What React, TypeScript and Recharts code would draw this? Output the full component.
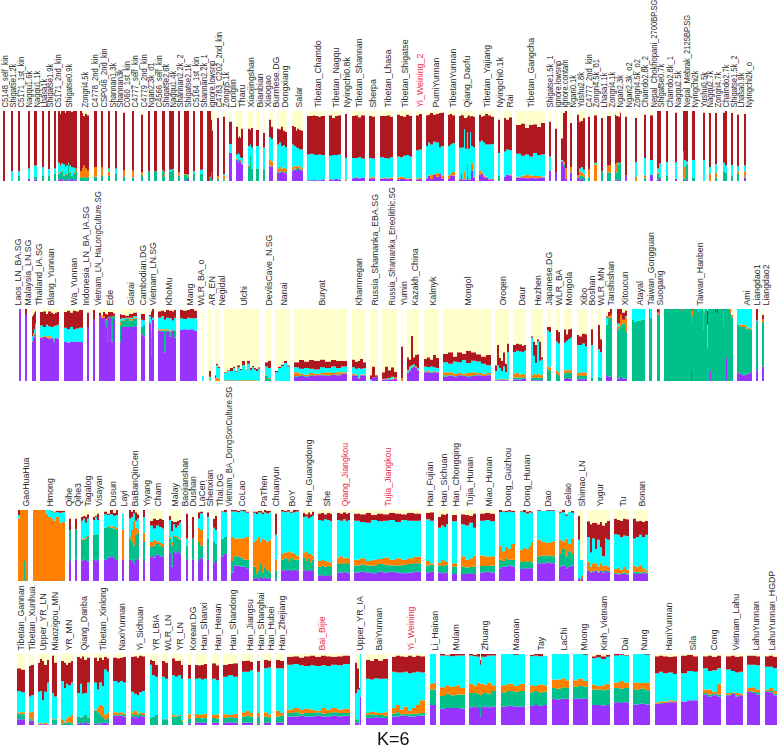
import { BarChart, Bar, XAxis, YAxis } from 'recharts'

// each run: [individuals, purple top, green top, orange top, cyan top, red top], cream fills up to 100
type Run = number[]

const SERIES = ['purple', 'green', 'orange', 'cyan', 'red', 'cream']
const COLORS = ['#9933ff', '#00c08c', '#ff8000', '#00ffff', '#b0181f', '#ffffcc']
const HIGHLIGHT = ['Yi_Weining_2', 'Qiang_Jiangkou', 'Tujia_Jiangkou', 'Bai_Bijie', 'Yi_Weining']
const FULL = [0, 100, 100, 100, 100]

const row1Names = ['C5148_self_kin', 'Shigatse1.2k', 'C5171_1st_kin', 'Nagqu1.6k', 'Nagqu1.1k', 'Lhasa1k', 'Shigatse1.9k', 'C5171_2nd_kin', 'Shigatse0.9k', 'Zongri4.5k', 'C4778_2nd_kin', 'CSP046_2nd_kin', 'Shannan1.3k', 'Shannan3k', 'C060_1st_kin', 'C4777_self_kin', 'C4779_2nd_kin', 'Ngari2.3k_o1', 'C4566_self_kin', 'Shigatse2.6k', 'Nagqu1.4k', 'Shannan2.2k_2', 'Shigatse2.1k', 'C5164_1st_kin', 'Shannan2.2k_1', 'ignore.lowsnp', 'C4783_C202_2nd_kin', 'Zongri5.1k', 'Longlin', 'Tharu', 'Xiaojingshan', 'Bianbian', 'Xiaogao', 'Burmese.DG', 'Dongxiang', 'Salar', 'Tibetan_Chamdo', 'Tibetan_Nagqu', 'Nyingchi0.8k', 'Tibetan_Shannan', 'Sherpa', 'Tibetan_Lhasa', 'Tibetan_Shigatse', 'Yi_Weining_2', 'PumiYunnan', 'TibetanYunnan', 'Qiang_Daofu', 'Tibetan_Yajiang', 'Nyingchi0.1k', 'Rai', 'Tibetan_Gangcha', 'Shigatse1.5k_1', 'ignore.lowsnp', 'ignore.contam', 'Ngari0.1k', 'Yushu2.8k', 'C4777_2nd_kin', 'Zongri4.5k_o1', 'Lhasa1.1k', 'Zongri4.1k', 'Ngari2.3k', 'Ngari2.3k_o2', 'Zongri4.5k_o2', 'Chamdo2.8k_2', 'Nepal_Chokhopani_2700BP.SG', 'Shigatse0.7k', 'Chamdo2.8k_1', 'Nagqu2.5k', 'Nepal_Mebrak_2125BP.SG', 'Nyingchi2k', 'Yushu0.5k', 'Nagqu2.7k', 'Zongri4.7k', 'Chamdo2.7k', 'Shigatse1.5k_2', 'Lhasa0.9k', 'Nyingchi2k_o']
const row1Gaps = [3, 6, 5, 8, 4, 5, 4, 4, 2, 3, 5, 4, 5, 5, 6, 7, 7, 5, 4, 5, 4, 4, 4, 4, 5, 4, 4, 4, 4, 4, 5, 3, 4, 4, 4, 5, 4, 4, 4, 5, 4, 5, 4, 4, 4, 4, 4, 4, 4, 4, 4, 4, 4, 4, 3, 5, 3, 4, 4, 4, 4, 4, 8, 7, 4, 4, 5, 7, 6, 4, 8, 4, 4, 6, 4, 4, 5]
const row1Ticks = [4, 12, 20, 28, 36, 43, 49, 57, 68, 84, 94, 103, 112, 119, 126, 134, 143, 150, 158, 165, 172, 179, 187, 195, 203, 211, 218, 225, 232, 241, 250, 259, 267, 275, 284, 298, 317, 335, 346, 358, 372, 387, 404, 419, 435, 452, 466, 486, 499, 509, 530, 549, 557, 564, 572, 580, 588, 595, 603, 611, 619, 628, 636, 644, 653, 660, 669, 677, 686, 694, 703, 709, 717, 725, 733, 740, 748]
const row1Runs: Run[][] = [
  [[2, 0, 0, 0, 0, 100]],
  [[2, 0, 0, 0, 14, 100]],
  [[2, 0, 7, 7, 14, 100]],
  [[2, 3, 3, 3, 18, 100]],
  [[3, 2, 6, 6, 22, 100]],
  [[2, 0, 8, 8, 20, 100]],
  [[2, 0, 8, 8, 17, 100]],
  [[2, 0, 10, 10, 18, 100]],
  [[2, 2, 10, 11, 26, 100], [1, 3, 12, 13, 22, 96], [2, 2, 14, 15, 25, 100], [2, 1, 8, 9, 24, 100], [1, 3, 12, 13, 20, 97], [2, 2, 9, 10, 22, 100], [1, 1, 24, 25, 26, 100], [2, 2, 12, 13, 22, 100], [2, 3, 8, 8, 20, 99], [2, 1, 10, 12, 19, 100], [2, 2, 14, 17, 18, 100]],
  [[2, 0, 5, 14, 14, 100], [1, 0, 5, 17, 18, 97], [2, 0, 6, 22, 22, 93], [2, 0, 4, 18, 18, 96], [2, 1, 6, 15, 15, 94]],
  [[3, 0, 6, 20, 20, 100]],
  [[2, 0, 8, 20, 20, 100]],
  [[2, 0, 7, 14, 18, 100]],
  [[2, 0, 10, 10, 18, 100]],
  [[2, 0, 6, 15, 15, 98]],
  [[2, 0, 5, 15, 15, 100]],
  [[2, 0, 9, 13, 13, 95]],
  [[2, 0, 14, 14, 14, 100]],
  [[3, 0, 14, 14, 14, 100]],
  [[2, 0, 14, 14, 15, 100], [1, 0, 6, 10, 12, 100]],
  [[3, 0, 14, 14, 16, 100], [2, 0, 16, 16, 17, 100]],
  [[2, 0, 8, 12, 12, 100]],
  [[3, 1, 9, 10, 10, 100], [2, 3, 6, 8, 9, 100]],
  [[2, 0, 10, 10, 14, 100]],
  [[3, 0, 10, 10, 16, 100]],
  [[2, 0, 0, 0, 0, 100], [2, 0, 6, 6, 6, 100], [1, 0, 13, 13, 13, 88], [1, 0, 0, 0, 1, 72]],
  [[2, 0, 3, 7, 7, 90]],
  [[2, 0, 2, 8, 10, 92]],
  [[3, 40, 40, 40, 53, 85]],
  [[2, 30, 30, 32, 38, 78], [1, 28, 28, 28, 40, 62], [1, 30, 30, 30, 38, 64], [1, 28, 28, 30, 34, 62], [2, 24, 24, 25, 33, 75]],
  [[2, 0, 20, 22, 50, 75], [1, 0, 36, 36, 52, 73], [2, 0, 18, 18, 48, 76]],
  [[3, 0, 18, 18, 50, 73]],
  [[2, 0, 18, 18, 48, 69]],
  [[2, 21, 22, 30, 63, 88], [2, 20, 21, 28, 60, 78]],
  [[2, 12, 13, 18, 52, 75], [2, 12, 14, 20, 55, 74], [2, 13, 14, 18, 50, 78], [2, 12, 13, 19, 51, 72], [2, 11, 13, 17, 48, 70]],
  [[2, 15, 16, 20, 52, 79], [2, 16, 18, 21, 50, 77], [1, 15, 17, 21, 48, 72], [2, 17, 19, 22, 47, 75], [2, 16, 18, 20, 45, 73], [2, 15, 16, 19, 45, 72]],
  [[3, 1, 1, 1, 38, 93], [3, 1, 1, 1, 39, 93], [2, 2, 2, 2, 38, 94], [3, 1, 1, 1, 37, 93], [3, 1, 1, 1, 38, 92], [4, 2, 2, 2, 37, 93]],
  [[3, 2, 2, 3, 36, 94], [3, 2, 2, 2, 37, 90], [3, 3, 3, 3, 37, 93], [3, 2, 2, 2, 38, 94]],
  [[2, 0, 0, 2, 33, 96]],
  [[3, 4, 4, 4, 33, 93], [3, 5, 5, 6, 33, 94], [3, 4, 4, 4, 34, 91], [4, 5, 5, 5, 32, 94]],
  [[3, 4, 4, 5, 33, 93], [3, 4, 4, 6, 32, 92]],
  [[4, 3, 3, 4, 34, 93], [3, 4, 4, 5, 33, 93], [3, 3, 3, 4, 32, 94], [3, 3, 3, 5, 34, 92]],
  [[3, 2, 2, 5, 35, 95], [3, 3, 3, 6, 34, 93], [3, 3, 3, 5, 36, 92], [3, 2, 2, 4, 37, 95], [3, 3, 3, 4, 35, 93]],
  [[3, 2, 2, 4, 44, 94], [3, 3, 3, 4, 45, 96]],
  [[2, 3, 3, 4, 50, 94], [2, 7, 7, 8, 55, 95], [3, 3, 3, 9, 52, 97], [3, 9, 9, 10, 56, 95], [3, 6, 6, 11, 55, 96], [2, 10, 10, 11, 48, 97], [3, 4, 4, 8, 50, 98]],
  [[2, 3, 3, 8, 50, 95], [2, 8, 8, 10, 52, 96], [3, 8, 8, 13, 54, 94]],
  [[2, 2, 2, 3, 48, 93], [1, 10, 10, 10, 47, 95], [2, 2, 2, 3, 48, 94], [1, 2, 2, 14, 74, 90], [2, 2, 2, 2, 46, 90], [1, 7, 7, 25, 70, 92], [2, 2, 2, 3, 46, 94], [1, 2, 2, 3, 70, 92], [2, 15, 15, 26, 50, 93], [2, 5, 5, 6, 48, 92]],
  [[2, 9, 9, 15, 56, 95], [2, 10, 10, 12, 58, 92], [2, 6, 6, 8, 55, 93], [3, 5, 5, 6, 52, 96], [3, 2, 2, 3, 52, 94], [3, 2, 2, 3, 53, 92]],
  [[2, 0, 7, 7, 40, 88]],
  [[2, 6, 6, 6, 42, 90], [3, 9, 9, 9, 45, 88], [3, 8, 8, 9, 44, 91]],
  [[5, 5, 5, 6, 39, 80], [4, 5, 5, 8, 36, 82], [4, 4, 4, 9, 38, 76], [4, 5, 5, 8, 35, 80], [4, 4, 4, 7, 40, 81], [4, 5, 5, 7, 37, 77], [4, 5, 5, 6, 38, 83]],
  [[2, 15, 15, 15, 35, 85]],
  [[2, 13, 13, 13, 13, 75]],
  [[2, 28, 28, 29, 30, 61], [2, 20, 24, 28, 28, 97], [2, 3, 3, 18, 18, 100]],
  [[2, 12, 12, 20, 20, 83]],
  [[2, 5, 5, 8, 8, 95], [2, 2, 8, 14, 18, 85], [2, 3, 7, 12, 20, 86], [2, 0, 6, 9, 16, 90]],
  [[2, 0, 5, 17, 17, 92]],
  [[3, 0, 0, 24, 26, 94]],
  [[2, 0, 14, 14, 14, 90]],
  [[4, 0, 12, 22, 22, 93]],
  [[1, 2, 16, 24, 24, 95], [2, 1, 12, 26, 26, 93], [2, 2, 24, 24, 26, 92], [1, 0, 26, 26, 26, 98]],
  [[2, 8, 8, 8, 8, 92]],
  [[2, 0, 0, 6, 27, 90]],
  [[2, 0, 4, 8, 33, 95]],
  [[3, 9, 9, 9, 30, 94]],
  [[2, 2, 10, 12, 18, 100], [2, 3, 6, 6, 25, 100]],
  [[2, 0, 7, 7, 27, 100]],
  [[2, 3, 3, 3, 27, 98]],
  [[1, 2, 5, 42, 42, 100], [2, 0, 4, 20, 30, 100], [2, 2, 24, 25, 28, 100]],
  [[3, 0, 5, 5, 30, 100]],
  [[2, 0, 0, 0, 30, 98]],
  [[2, 0, 0, 10, 20, 97]],
  [[2, 0, 5, 12, 24, 97]],
  [[2, 0, 14, 14, 26, 98], [2, 0, 12, 12, 22, 100]],
  [[2, 0, 8, 8, 23, 97]],
  [[2, 0, 10, 14, 21, 95]],
  [[2, 5, 6, 14, 22, 96]],
]

const row2Names = ['Laos_LN_BA.SG', 'Malaysia_LN.SG', 'Thailand_IA.SG', 'Blang_Yunnan', 'Wa_Yunnan', 'Indonesia_LN_BA_IA.SG', 'Vietnam_LN_HaLongCulture.SG', 'Ede', 'Giarai', 'Cambodian.DG', 'Vietnam_LN.SG', 'KhoMu', 'Mang', 'WLR_BA_o', 'AR_EN', 'Negidal', 'Ulchi', 'DevilsCave_N.SG', 'Nanai', 'Buryat', 'Khamnegan', 'Russia_Shamanka_EBA.SG', 'Russia_Shamanka_Eneolithic.SG', 'Yumin', 'Kazakh_China', 'Kalmyk', 'Mongol', 'Oroqen', 'Daur', 'Hezhen', 'Japanese.DG', 'WLR_BA', 'Mongola', 'Xibo', 'Boshan', 'WLR_MN', 'Tanshishan', 'Xitoucun', 'Atayal', 'Taiwan_Gongguan', 'Suogang', 'Taiwan_Hanben', 'Ami', 'Liangdao1', 'Liangdao2']
const row2Gaps = [19, 4, 5, 4, 5, 4, 4, 4, 5, 4, 4, 4, 4, 5, 4, 4, 4, 5, 4, 4, 5, 4, 4, 4, 4, 5, 4, 4, 4, 5, 4, 5, 4, 5, 4, 5, 4, 5, 5, 4, 5, 4, 4, 4, 4]
const row2Ticks = [17, 27, 38, 50, 73, 85, 97, 109, 130, 142, 152, 168, 189, 200, 211, 221, 243, 268, 283, 321, 358, 374, 391, 403, 414, 432, 467, 502, 521, 537, 548, 558, 568, 583, 591, 600, 610, 624, 639, 650, 659, 699, 746, 756, 765]
const row2Runs: Run[][] = [
  [[2, 100, 100, 100, 100, 100]],
  [[2, 93, 93, 93, 93, 100]],
  [[1, 55, 55, 56, 62, 90], [1, 60, 60, 62, 66, 92], [1, 62, 64, 66, 72, 95], [1, 60, 66, 68, 80, 97]],
  [[3, 60, 60, 61, 77, 96], [3, 61, 61, 62, 75, 97], [2, 60, 60, 62, 78, 93], [3, 59, 59, 62, 76, 97], [2, 60, 60, 60, 75, 95], [2, 55, 58, 59, 76, 93], [2, 60, 60, 60, 77, 95], [2, 59, 59, 59, 78, 96]],
  [[3, 54, 54, 54, 74, 96], [3, 53, 53, 53, 72, 98], [3, 55, 55, 55, 75, 95], [3, 54, 54, 54, 72, 98], [3, 55, 55, 55, 73, 97], [4, 54, 54, 54, 74, 99]],
  [[2, 75, 75, 75, 75, 95]],
  [[2, 85, 85, 85, 85, 99]],
  [[2, 90, 90, 90, 90, 95], [2, 88, 88, 90, 90, 91], [2, 88, 88, 90, 90, 96], [2, 75, 85, 86, 86, 93], [1, 55, 88, 88, 88, 92], [3, 88, 89, 89, 89, 96], [2, 55, 90, 90, 90, 96], [2, 86, 90, 90, 90, 94]],
  [[1, 55, 78, 82, 86, 93], [4, 75, 84, 85, 87, 92], [4, 75, 86, 87, 88, 91], [4, 75, 84, 86, 88, 93], [4, 76, 86, 88, 90, 95]],
  [[2, 65, 75, 75, 85, 93], [2, 62, 78, 78, 84, 93]],
  [[2, 80, 82, 82, 90, 92], [1, 35, 60, 70, 85, 97], [2, 85, 85, 85, 88, 100]],
  [[3, 70, 70, 72, 88, 97], [3, 68, 70, 72, 90, 98], [2, 40, 70, 72, 85, 96], [3, 68, 70, 72, 88, 99], [3, 62, 68, 70, 87, 98], [2, 70, 72, 72, 84, 97], [2, 60, 70, 70, 88, 99]],
  [[3, 71, 71, 71, 87, 99], [4, 72, 72, 72, 86, 98], [3, 71, 71, 71, 88, 99], [4, 72, 72, 72, 87, 100], [3, 70, 70, 70, 87, 98]],
  [[2, 0, 0, 0, 7, 7]],
  [[1, 0, 0, 0, 0, 0], [2, 0, 0, 1, 6, 14]],
  [[1, 0, 0, 0, 4, 8], [2, 0, 0, 5, 22, 24], [2, 0, 0, 3, 18, 20]],
  [[3, 0, 0, 1, 11, 12], [3, 0, 0, 1, 14, 15], [3, 0, 1, 2, 14, 18], [2, 0, 0, 1, 18, 20], [2, 0, 0, 0, 13, 14], [3, 0, 0, 1, 19, 22], [2, 0, 0, 1, 15, 17], [3, 0, 0, 1, 22, 28], [2, 0, 0, 1, 15, 16], [3, 0, 0, 1, 24, 28], [2, 0, 0, 1, 15, 18], [2, 0, 0, 1, 19, 21], [2, 0, 0, 1, 16, 18], [2, 0, 0, 1, 14, 17], [2, 0, 0, 0, 17, 19]],
  [[3, 0, 7, 8, 20, 26], [3, 0, 3, 4, 18, 28]],
  [[3, 0, 0, 1, 12, 14], [3, 0, 0, 0, 18, 20], [3, 0, 0, 0, 21, 23], [3, 0, 0, 0, 25, 28], [3, 0, 0, 0, 20, 22]],
  [[5, 6, 7, 12, 19, 26], [5, 7, 8, 10, 17, 29], [5, 6, 7, 9, 18, 27], [5, 7, 8, 11, 17, 29], [6, 8, 8, 10, 16, 28], [5, 8, 9, 11, 19, 30], [6, 7, 8, 12, 18, 27], [5, 9, 9, 11, 20, 29], [5, 8, 9, 12, 18, 28], [6, 10, 10, 12, 20, 28]],
  [[3, 8, 8, 10, 19, 30], [3, 7, 7, 9, 17, 27], [2, 3, 3, 4, 18, 28], [3, 8, 8, 9, 17, 31], [3, 7, 8, 9, 18, 26]],
  [[2, 0, 0, 0, 2, 8], [3, 5, 5, 5, 5, 20], [3, 6, 6, 6, 6, 8]],
  [[3, 2, 2, 3, 3, 12], [3, 2, 2, 2, 3, 20], [3, 2, 3, 3, 4, 15], [3, 2, 2, 3, 6, 19], [3, 3, 3, 5, 5, 13]],
  [[2, 0, 0, 4, 4, 48]],
  [[2, 11, 11, 12, 15, 33], [2, 14, 14, 15, 20, 30], [2, 18, 18, 19, 22, 63], [2, 20, 20, 21, 23, 33], [2, 18, 18, 19, 20, 36], [2, 15, 15, 16, 18, 37]],
  [[3, 12, 13, 14, 20, 31], [3, 12, 13, 15, 19, 33], [3, 11, 12, 13, 20, 30], [3, 12, 13, 14, 19, 36], [3, 12, 12, 13, 18, 32]],
  [[5, 6, 8, 12, 26, 38], [5, 7, 8, 12, 24, 40], [4, 6, 7, 10, 27, 34], [5, 8, 8, 11, 26, 40], [4, 7, 8, 10, 29, 38], [5, 6, 7, 11, 25, 42], [5, 7, 8, 12, 28, 40], [5, 8, 9, 11, 27, 37], [5, 7, 7, 10, 24, 34], [5, 8, 9, 11, 22, 36]],
  [[2, 1, 1, 2, 14, 22], [2, 1, 1, 2, 22, 50], [2, 1, 2, 3, 18, 32], [2, 1, 2, 3, 14, 28], [2, 1, 2, 3, 20, 40], [2, 1, 2, 3, 12, 24], [2, 1, 1, 2, 40, 52]],
  [[3, 2, 5, 10, 40, 50], [3, 2, 5, 11, 42, 52], [3, 2, 5, 9, 41, 51], [2, 3, 6, 10, 40, 49], [2, 3, 4, 9, 42, 50]],
  [[2, 1, 5, 8, 60, 62], [2, 1, 5, 10, 35, 55], [2, 1, 4, 9, 25, 50], [2, 1, 5, 10, 55, 58], [2, 1, 5, 8, 28, 55], [2, 1, 4, 9, 30, 33]],
  [[2, 0, 16, 20, 70, 75], [2, 0, 14, 19, 68, 75]],
  [[2, 0, 10, 15, 55, 71], [2, 0, 8, 12, 52, 68]],
  [[2, 3, 10, 15, 53, 72], [2, 4, 11, 15, 56, 65], [2, 3, 12, 16, 58, 72], [2, 3, 11, 15, 60, 73]],
  [[2, 2, 7, 11, 50, 64], [3, 3, 8, 12, 50, 62], [3, 2, 7, 12, 52, 66], [2, 3, 8, 11, 48, 65]],
  [[2, 0, 5, 5, 50, 72]],
  [[2, 0, 6, 6, 44, 78], [2, 0, 5, 5, 40, 58]],
  [[2, 8, 78, 78, 88, 90], [2, 6, 88, 90, 90, 96], [2, 6, 88, 92, 92, 100]],
  [[3, 3, 72, 76, 80, 100], [2, 6, 76, 92, 92, 100], [3, 3, 80, 85, 85, 95], [2, 3, 68, 88, 90, 98]],
  [[2, 0, 85, 85, 100, 100], [3, 0, 82, 82, 100, 100], [4, 0, 84, 84, 100, 100], [4, 0, 85, 85, 100, 100]],
  [[1, ...FULL], [2, 0, 88, 88, 100, 100]],
  [[2, 0, 92, 95, 95, 100], [1, ...FULL]],
  [[18, ...FULL], [2, 0, 98, 99, 99, 100], [7, ...FULL], [1, 14, 82, 98, 98, 100], [1, 0, 90, 99, 99, 100], [5, ...FULL], [1, 0, 96, 96, 100, 100], [4, ...FULL], [1, 0, 73, 98, 100, 100], [1, 0, 95, 97, 100, 100], [2, ...FULL], [1, 0, 47, 47, 78, 98], [2, ...FULL], [1, 14, 100, 100, 100, 100], [4, ...FULL], [1, 0, 96, 96, 96, 100], [1, ...FULL], [1, 0, 94, 94, 94, 100], [5, ...FULL], [1, 0, 76, 98, 98, 100], [2, ...FULL], [1, 33, 100, 100, 100, 100], [3, ...FULL], [1, 0, 94, 100, 100, 100], [2, 0, 88, 92, 92, 92]],
  [[2, 12, 78, 78, 100, 100], [3, 10, 76, 78, 100, 100], [3, 8, 75, 78, 100, 100], [2, 9, 73, 76, 100, 100], [3, 10, 72, 74, 100, 100], [2, 12, 72, 73, 100, 100]],
  [[2, 15, 83, 83, 84, 100]],
  [[2, 20, 82, 86, 86, 92]],
]

const row3Names = ['GaoHuaHua', 'Hmong', 'Qihe', 'Qihe3', 'Tagalog', 'Visayan', 'Dusun', 'Layi', 'BaBanQinCen', 'Yiyang', 'Cham', 'Malay', 'Baojianshan', 'Dushan', 'LaCen', 'Shenxian', 'Thai.DG', 'Vietnam_BA_DongSonCulture.SG', 'CoLao', 'PaThen', 'Chuanyun', 'BoY', 'Han_Guangdong', 'She', 'Qiang_Jiangkou', 'Tujia_Jiangkou', 'Han_Fujian', 'Han_Sichuan', 'Han_Chongqing', 'Tujia_Hunan', 'Miao_Hunan', 'Dong_Guizhou', 'Dong_Hunan', 'Dao', 'Gelao', 'Shimao_LN', 'Yugur', 'Tu', 'Bonan']
const row3Gaps = [18, 5, 4, 4, 4, 4, 5, 4, 5, 4, 5, 5, 5, 4, 4, 4, 4, 4, 4, 4, 4, 4, 4, 4, 5, 4, 5, 4, 4, 4, 4, 4, 5, 4, 4, 4, 4, 4, 4]
const row3Ticks = [25, 49, 68, 77, 87, 98, 112, 123, 134, 146, 157, 174, 184, 192, 201, 209, 219, 228, 241, 263, 275, 291, 308, 326, 344, 387, 429, 443, 455, 469, 488, 507, 526, 547, 567, 581, 599, 622, 641]
const row3Runs: Run[][] = [
  [[2, 0, 0, 88, 93, 100], [4, 0, 0, 100, 100, 100], [1, 0, 28, 100, 100, 100], [3, 0, 0, 100, 100, 100]],
  [[12, 0, 0, 100, 100, 100], [3, 0, 0, 95, 100, 100], [3, 0, 0, 90, 100, 100], [2, 0, 0, 88, 98, 99], [3, 0, 0, 85, 97, 98], [3, 0, 0, 90, 97, 99], [3, 0, 0, 82, 96, 99], [3, 0, 1, 83, 97, 99]],
  [[2, 28, 72, 72, 72, 88]],
  [[2, 30, 73, 73, 73, 88]],
  [[2, 29, 58, 60, 85, 90], [2, 30, 58, 60, 88, 92], [2, 28, 60, 62, 82, 91], [2, 27, 62, 64, 88, 94]],
  [[2, 30, 65, 65, 86, 90], [2, 29, 66, 66, 90, 92], [2, 30, 66, 66, 86, 95]],
  [[3, 30, 75, 75, 94, 98], [3, 33, 76, 77, 93, 95], [3, 35, 75, 77, 94, 100], [3, 31, 74, 76, 92, 96], [2, 30, 73, 75, 93, 100]],
  [[2, 30, 30, 72, 95, 95]],
  [[2, 30, 60, 62, 88, 100], [2, 28, 55, 72, 90, 98], [2, 25, 50, 85, 95, 100], [2, 30, 65, 75, 85, 97], [2, 32, 68, 72, 88, 94]],
  [[2, 28, 55, 68, 90, 100]],
  [[3, 35, 48, 55, 78, 85], [3, 33, 50, 58, 74, 88], [3, 37, 52, 56, 78, 86], [3, 35, 50, 54, 76, 88], [2, 34, 48, 52, 74, 86]],
  [[2, 38, 60, 62, 86, 92], [2, 20, 50, 55, 70, 85], [2, 42, 62, 64, 80, 83], [2, 40, 62, 63, 75, 83], [2, 42, 60, 62, 78, 85], [2, 38, 58, 60, 82, 86]],
  [[2, 30, 50, 50, 60, 95]],
  [[2, 30, 60, 60, 60, 90]],
  [[2, 28, 55, 75, 88, 97], [3, 32, 50, 72, 95, 98]],
  [[2, 30, 60, 60, 90, 97]],
  [[2, 25, 55, 55, 75, 88], [2, 28, 52, 52, 72, 92]],
  [[3, 35, 60, 60, 98, 99], [3, 38, 62, 62, 97, 100]],
  [[3, 12, 28, 62, 98, 100], [3, 22, 35, 60, 98, 100], [3, 22, 35, 60, 97, 99], [3, 20, 33, 60, 99, 100], [3, 20, 30, 61, 98, 100], [3, 18, 30, 62, 96, 98]],
  [[3, 4, 20, 55, 96, 98], [2, 5, 10, 58, 94, 98], [2, 2, 15, 62, 97, 99], [2, 6, 25, 55, 96, 99], [2, 3, 12, 60, 94, 97], [2, 5, 20, 58, 97, 100], [3, 4, 15, 56, 95, 99], [2, 3, 12, 58, 97, 99]],
  [[2, 2, 15, 30, 65, 95]],
  [[3, 15, 30, 38, 98, 100], [3, 15, 32, 40, 97, 99], [3, 16, 28, 42, 98, 100], [3, 14, 32, 40, 96, 98], [3, 16, 30, 38, 97, 100], [3, 15, 30, 36, 98, 100]],
  [[2, 15, 33, 40, 90, 96], [3, 15, 28, 42, 91, 94], [2, 14, 32, 38, 88, 97], [2, 15, 26, 38, 90, 94], [2, 14, 30, 36, 92, 98]],
  [[3, 8, 20, 28, 86, 95], [3, 8, 22, 30, 85, 96], [3, 7, 20, 28, 87, 94], [3, 8, 21, 27, 86, 96], [2, 8, 20, 26, 84, 95]],
  [[3, 12, 25, 33, 86, 96], [3, 12, 24, 35, 85, 95], [3, 13, 25, 32, 87, 97], [2, 12, 26, 33, 84, 95], [2, 11, 24, 32, 86, 96]],
  [[6, 12, 22, 30, 85, 95], [6, 13, 23, 32, 83, 94], [5, 12, 22, 28, 82, 96], [6, 11, 22, 30, 86, 93], [6, 13, 24, 31, 84, 95], [6, 12, 23, 33, 85, 94], [6, 13, 22, 30, 86, 96], [6, 12, 22, 32, 83, 95], [6, 11, 23, 30, 86, 94], [7, 12, 24, 32, 85, 96], [7, 13, 25, 34, 85, 95]],
  [[4, 12, 22, 28, 87, 96], [4, 13, 23, 25, 85, 97]],
  [[3, 12, 22, 26, 75, 90], [3, 11, 21, 30, 78, 94], [2, 12, 22, 28, 76, 93], [2, 12, 23, 27, 80, 95]],
  [[5, 10, 20, 25, 84, 93]],
  [[4, 10, 20, 35, 80, 94], [4, 10, 19, 30, 78, 93], [4, 11, 20, 32, 82, 92], [3, 10, 20, 36, 75, 95]],
  [[5, 12, 21, 36, 85, 95], [5, 13, 21, 34, 86, 96], [5, 12, 22, 35, 84, 95]],
  [[3, 18, 30, 50, 97, 100], [3, 20, 28, 42, 98, 99], [3, 20, 32, 48, 97, 99], [3, 22, 30, 45, 98, 100], [4, 20, 30, 52, 97, 99]],
  [[3, 17, 27, 44, 98, 99], [3, 18, 28, 47, 97, 100], [3, 18, 27, 45, 95, 98], [2, 18, 28, 50, 97, 99], [2, 18, 26, 55, 96, 98]],
  [[4, 25, 35, 58, 99, 100], [5, 25, 36, 55, 99, 99], [5, 26, 36, 54, 99, 100], [4, 25, 35, 56, 99, 100]],
  [[3, 20, 38, 58, 96, 98], [3, 22, 45, 56, 97, 100], [3, 18, 35, 60, 92, 94], [3, 20, 42, 52, 98, 98], [3, 22, 38, 60, 96, 99]],
  [[2, 4, 4, 4, 58, 92], [1, 0, 0, 2, 30, 30], [2, 4, 4, 8, 30, 30]],
  [[3, 14, 15, 27, 62, 84], [2, 12, 13, 20, 40, 80], [3, 13, 14, 25, 60, 82], [2, 14, 15, 24, 45, 82], [3, 12, 13, 20, 58, 80], [2, 14, 15, 26, 48, 83], [3, 12, 14, 22, 35, 78], [2, 14, 15, 22, 60, 82], [3, 13, 14, 20, 58, 85]],
  [[3, 10, 11, 17, 66, 88], [3, 9, 11, 19, 65, 86], [3, 10, 11, 16, 62, 85], [3, 10, 12, 20, 64, 88], [3, 9, 11, 16, 63, 87]],
  [[3, 11, 13, 22, 60, 88], [3, 10, 13, 20, 62, 84], [3, 10, 12, 23, 65, 85], [3, 11, 13, 18, 62, 83], [3, 10, 12, 15, 65, 85]],
]

const row4Names = ['Tibetan_Gannan', 'Tibetan_Xunhua', 'Upper_YR_LN', 'Miaozigou_MN', 'YR_MN', 'Qiang_Danba', 'Tibetan_Xinlong', 'NaxiYunnan', 'Yi_Sichuan', 'YR_LBIA', 'WLR_LN', 'YR_LN', 'Korean.DG', 'Han_Shanxi', 'Han_Henan', 'Han_Shandong', 'Han_Jiangsu', 'Han_Shanghai', 'Han_Hubei', 'Han_Zhejiang', 'Bai_Bijie', 'Upper_YR_IA', 'BaiYunnan', 'Yi_Weining', 'Li_Hainan', 'Mulam', 'Zhuang', 'Maonan', 'Tay', 'LaChi', 'Muong', 'Kinh_Vietnam', 'Dai', 'Nung', 'HaniYunnan', 'Sila', 'Cong', 'Vietnam_Lahu', 'LahuYunnan', 'LahuYunnan_HGDP']
const row4Gaps = [17, 4, 4, 3, 4, 4, 4, 4, 5, 5, 4, 4, 5, 4, 5, 4, 4, 4, 4, 5, 3, 5, 5, 4, 5, 4, 4, 5, 5, 5, 4, 4, 4, 4, 5, 4, 5, 5, 4, 5]
const row4Ticks = [20, 31, 42, 54, 68, 83, 102, 121, 139, 155, 167, 179, 192, 203, 217, 232, 249, 260, 270, 281, 321, 359, 378, 410, 434, 455, 484, 515, 540, 563, 583, 603, 624, 643, 668, 692, 713, 735, 755, 771]
const row4Runs: Run[][] = [
  [[4, 8, 16, 18, 48, 80], [4, 8, 15, 18, 46, 78]],
  [[2, 6, 9, 18, 40, 83], [3, 6, 8, 19, 42, 85]],
  [[2, 1, 1, 2, 47, 88], [2, 1, 1, 3, 48, 93], [2, 1, 1, 2, 35, 90], [3, 1, 1, 3, 47, 85], [2, 1, 1, 2, 60, 92]],
  [[2, 1, 8, 9, 45, 98], [3, 1, 7, 8, 40, 88]],
  [[3, 0, 2, 8, 62, 90], [2, 0, 3, 5, 52, 88], [2, 1, 3, 9, 58, 85], [3, 0, 4, 12, 56, 88], [2, 0, 2, 14, 60, 90]],
  [[3, 2, 12, 12, 45, 96], [2, 3, 10, 11, 58, 94], [2, 1, 12, 12, 44, 97], [3, 4, 14, 14, 45, 92], [3, 2, 10, 11, 60, 95]],
  [[3, 2, 20, 22, 60, 95], [2, 1, 18, 25, 50, 90], [3, 2, 14, 28, 60, 95], [2, 3, 12, 27, 55, 92], [3, 3, 8, 15, 78, 96], [2, 2, 10, 18, 75, 94]],
  [[4, 13, 14, 18, 62, 95], [3, 13, 14, 17, 60, 94], [3, 13, 15, 18, 62, 95], [3, 12, 14, 16, 60, 96]],
  [[3, 12, 15, 18, 47, 96], [3, 11, 14, 20, 44, 97], [2, 10, 14, 16, 42, 95], [3, 13, 16, 18, 46, 98], [3, 12, 14, 17, 48, 97]],
  [[2, 0, 10, 10, 85, 92], [3, 0, 12, 12, 70, 90], [3, 0, 14, 14, 68, 85]],
  [[3, 0, 8, 8, 68, 90], [3, 0, 8, 9, 65, 88]],
  [[3, 0, 12, 14, 70, 94], [3, 0, 12, 13, 68, 90], [3, 0, 13, 14, 70, 91], [2, 0, 5, 7, 65, 85]],
  [[3, 2, 9, 15, 65, 85]],
  [[3, 3, 10, 16, 65, 85], [3, 4, 10, 14, 66, 84], [3, 3, 9, 15, 64, 85], [3, 3, 10, 16, 65, 86]],
  [[4, 3, 10, 14, 65, 87], [3, 3, 9, 15, 63, 84]],
  [[5, 3, 10, 15, 68, 85], [5, 4, 11, 14, 70, 86], [5, 3, 10, 16, 68, 87]],
  [[4, 3, 12, 18, 75, 90], [4, 3, 13, 20, 75, 91], [3, 3, 12, 17, 77, 89]],
  [[3, 2, 12, 17, 75, 90]],
  [[4, 3, 12, 18, 80, 92], [3, 3, 11, 15, 81, 91]],
  [[4, 4, 12, 20, 80, 92], [4, 3, 13, 17, 80, 90]],
  [[6, 12, 17, 22, 85, 96], [6, 12, 18, 24, 86, 97], [5, 13, 16, 21, 84, 95], [6, 12, 17, 23, 83, 97], [5, 12, 17, 22, 84, 98], [6, 13, 18, 20, 83, 96], [5, 12, 16, 24, 84, 98], [5, 12, 17, 22, 83, 97], [6, 13, 18, 24, 85, 96], [6, 12, 17, 22, 84, 97], [7, 13, 17, 23, 86, 98]],
  [[2, 3, 8, 8, 45, 88], [2, 4, 8, 8, 50, 80], [1, 0, 0, 0, 50, 52], [1, 40, 40, 40, 100, 100]],
  [[4, 10, 14, 17, 65, 92], [4, 10, 15, 19, 64, 90], [4, 11, 14, 18, 66, 93], [5, 10, 14, 17, 65, 91], [5, 10, 13, 18, 65, 93]],
  [[4, 12, 16, 24, 75, 96], [4, 12, 18, 28, 74, 98], [4, 13, 15, 22, 74, 97], [4, 13, 16, 26, 75, 96], [4, 12, 15, 20, 73, 98], [4, 12, 16, 24, 74, 96], [4, 13, 16, 28, 75, 98], [5, 13, 17, 35, 74, 97]],
  [[3, 28, 50, 58, 100, 100], [3, 28, 50, 60, 100, 100]],
  [[5, 23, 41, 53, 98, 100], [5, 24, 44, 56, 98, 99], [5, 24, 42, 54, 97, 100], [5, 24, 43, 56, 98, 100], [5, 23, 43, 52, 98, 100]],
  [[4, 25, 45, 58, 98, 100], [4, 26, 45, 56, 97, 99], [3, 24, 44, 60, 96, 100], [1, 12, 42, 58, 85, 92], [2, 25, 44, 58, 96, 100], [4, 26, 45, 57, 96, 100], [4, 25, 44, 60, 98, 100], [5, 26, 48, 56, 98, 100]],
  [[6, 26, 46, 56, 100, 100], [6, 27, 48, 58, 100, 100], [6, 26, 47, 55, 99, 100], [6, 26, 48, 58, 100, 100]],
  [[4, 27, 46, 56, 97, 99], [4, 28, 48, 55, 98, 100], [5, 27, 46, 57, 97, 100], [4, 28, 47, 56, 98, 98]],
  [[4, 37, 52, 64, 100, 100], [5, 36, 51, 64, 100, 100], [4, 37, 53, 66, 100, 100], [4, 37, 52, 63, 100, 100]],
  [[5, 37, 54, 63, 100, 100], [5, 37, 55, 65, 100, 100], [5, 37, 54, 62, 99, 100]],
  [[4, 28, 50, 57, 94, 97], [5, 28, 50, 55, 95, 99], [5, 27, 49, 56, 93, 97], [4, 28, 50, 58, 96, 99]],
  [[5, 32, 52, 60, 98, 100], [5, 31, 51, 62, 99, 100], [5, 32, 52, 60, 98, 99]],
  [[6, 29, 50, 60, 100, 100], [6, 30, 51, 59, 100, 100], [5, 29, 49, 60, 99, 100]],
  [[4, 30, 30, 32, 73, 97], [4, 30, 31, 33, 75, 98], [5, 31, 31, 33, 73, 97], [5, 32, 33, 35, 74, 96], [4, 32, 32, 34, 72, 97]],
  [[6, 33, 33, 33, 73, 98], [6, 35, 35, 35, 76, 99], [5, 35, 35, 35, 75, 97]],
  [[5, 43, 45, 50, 80, 97], [4, 40, 43, 50, 76, 98], [5, 42, 44, 47, 77, 96], [4, 40, 43, 58, 80, 98]],
  [[5, 42, 43, 45, 78, 97], [4, 44, 45, 46, 76, 98], [4, 40, 42, 45, 74, 96], [4, 42, 42, 44, 75, 97]],
  [[4, 47, 48, 52, 85, 98], [5, 45, 47, 53, 85, 98], [4, 43, 46, 50, 84, 97]],
  [[4, 47, 48, 50, 82, 97], [4, 46, 48, 52, 82, 98], [4, 42, 44, 48, 80, 96]],
]

const WIDTH = 777

function buildRow(gaps: number[], runs: Run[][]) {
  const data: any[] = []
  const pushBlank = (n: number) => {
    for (let i = 0; i < n; i++) data.push({ slot: data.length })
  }
  runs.forEach((popRuns, p) => {
    pushBlank(gaps[p])
    popRuns.forEach(([n, a, b, c, d, e]) => {
      for (let i = 0; i < n; i++) {
        data.push({ slot: data.length, purple: a, green: b - a, orange: c - b, cyan: d - c, red: e - d, cream: 100 - e })
      }
    })
  })
  pushBlank(WIDTH - data.length)
  return data
}

interface RowProps {
  names: string[]
  gaps: number[]
  ticks: number[]
  runs: Run[][]
  top: number
  axisHeight: number
  plotHeight: number
  labelSize: (name: string, index: number) => [number, number]
}

function AdmixRow({ names, gaps, ticks, runs, top, axisHeight, plotHeight, labelSize }: RowProps) {
  const data = buildRow(gaps, runs)

  // labels were squeezed along their length in the original, so scale only that way
  const PopLabel = ({ x, payload }: any) => {
    const i = ticks.indexOf(payload.value)
    const name = names[i]
    const [font, length] = labelSize(name, i)
    return (
      <text
        fontSize={font}
        fill={HIGHLIGHT.includes(name) ? '#ee2a4a' : '#2b2b2b'}
        transform={`translate(${x + 3.2} ${axisHeight - 3.5}) rotate(-90) scale(${length / font} 1)`}
      >
        {name}
      </text>
    )
  }

  return (
    <div style={{ position: 'absolute', left: 0, top }}>
      <BarChart
        width={WIDTH}
        height={axisHeight + plotHeight}
        data={data}
        margin={{ top: 0, right: 0, bottom: 0, left: 0 }}
        barCategoryGap={0}
        barGap={0}
      >
        <XAxis
          dataKey="slot"
          orientation="top"
          height={axisHeight}
          ticks={ticks}
          interval={0}
          axisLine={false}
          tickLine={false}
          tick={<PopLabel />}
        />
        <YAxis hide domain={[0, 100]} />
        {SERIES.map((s, i) => (
          <Bar key={s} dataKey={s} stackId="a" fill={COLORS[i]} isAnimationActive={false} />
        ))}
      </BarChart>
    </div>
  )
}

const normalSize = (name: string): [number, number] => (name.length >= 24 ? [9, 7.9] : [9.2, 8.8])
const row1Size = (name: string, i: number): [number, number] => (i < 28 || i > 50 ? [8.4, 7.6] : [9.2, 8.8])

export default function App() {
  return (
    <div
      style={{
        position: 'absolute',
        left: 0,
        top: 0,
        width: 777,
        height: 747,
        background: '#fff',
        fontFamily: '"Liberation Sans", Arial, sans-serif',
        filter: 'blur(0.45px)',
      }}
    >
      <AdmixRow names={row1Names} gaps={row1Gaps} ticks={row1Ticks} runs={row1Runs} top={0} axisHeight={111} plotHeight={70} labelSize={row1Size} />
      <AdmixRow names={row2Names} gaps={row2Gaps} ticks={row2Ticks} runs={row2Runs} top={150} axisHeight={159} plotHeight={72} labelSize={normalSize} />
      <AdmixRow names={row3Names} gaps={row3Gaps} ticks={row3Ticks} runs={row3Runs} top={380} axisHeight={130} plotHeight={71} labelSize={normalSize} />
      <AdmixRow names={row4Names} gaps={row4Gaps} ticks={row4Ticks} runs={row4Runs} top={565} axisHeight={89} plotHeight={71} labelSize={normalSize} />
      <div style={{ position: 'absolute', left: 377, top: 731, fontSize: 18, lineHeight: '16px', color: '#111' }}>K=6</div>
    </div>
  )
}
